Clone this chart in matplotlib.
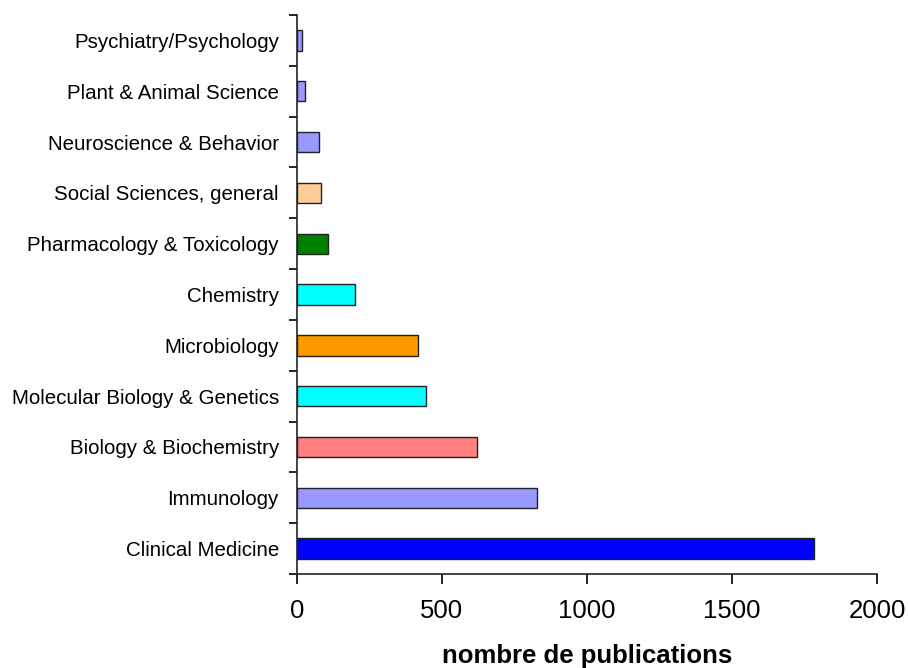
import matplotlib.pyplot as plt
import numpy as np

plt.rcParams['font.family'] = ['Liberation Sans', 'DejaVu Sans']

# bottom to top
categories = ['Clinical Medicine', 'Immunology', 'Biology & Biochemistry',
              'Molecular Biology & Genetics', 'Microbiology', 'Chemistry',
              'Pharmacology & Toxicology', 'Social Sciences, general',
              'Neuroscience & Behavior', 'Plant & Animal Science',
              'Psychiatry/Psychology']
publications = [1782, 828, 620, 444, 416, 201, 106, 83, 75, 29, 19]
colors = ['#0000ff', '#9999ff', '#ff8080', '#00ffff', '#ff9900', '#00ffff',
          '#008000', '#ffcc99', '#9999ff', '#9999ff', '#9999ff']

fig = plt.figure(figsize=(9.08, 6.68), dpi=100)
ax = fig.add_axes([0.327, 0.1407, 0.639, 0.8368])

y = np.arange(len(categories))
ax.barh(y, publications, height=0.4, color=colors, edgecolor='#222222', linewidth=1)

ax.set_xlim(0, 2000)
ax.set_ylim(-0.5, len(categories) - 0.5)
ax.set_xticks([0, 500, 1000, 1500, 2000])
ax.tick_params(axis='x', labelsize=18.5, direction='out', length=7, width=1.2, pad=11)

# category labels between boundary ticks
ax.set_yticks(np.arange(-0.5, len(categories), 1.0))
ax.set_yticklabels([])
ax.tick_params(axis='y', direction='out', length=6, width=1.2)
ax.set_yticks(y, minor=True)
ax.set_yticklabels(categories, minor=True, fontsize=14.8)
ax.tick_params(axis='y', which='minor', length=0, pad=13)

for s in ['top', 'right']:
    ax.spines[s].set_visible(False)
for s in ['left', 'bottom']:
    ax.spines[s].set_linewidth(1.2)
    ax.spines[s].set_color('#222222')

ax.set_xlabel('nombre de publications', fontsize=18.5, fontweight='bold', labelpad=15)

plt.savefig('out.png', dpi=100)
